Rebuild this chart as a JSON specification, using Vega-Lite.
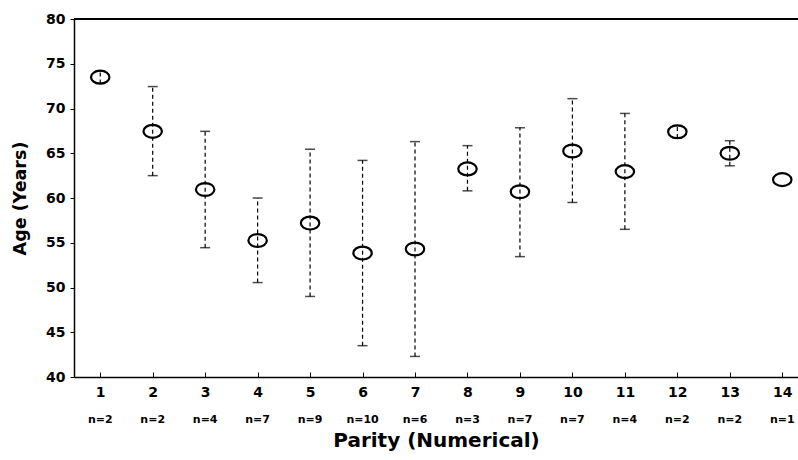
{
  "$schema": "https://vega.github.io/schema/vega-lite/v6.json",
  "width": 724,
  "height": 358,
  "autosize": {"type": "none"},
  "padding": {"left": 74, "top": 19, "right": 0, "bottom": 83},
  "background": "white",
  "config": {"view": {"stroke": null}, "font": "DejaVu Sans"},
  "data": {"values": [
    {"parity": 1, "mean": 73.5, "low": 72.8, "high": 74.2, "n": "n=2"},
    {"parity": 2, "mean": 67.45, "low": 62.5, "high": 72.45, "n": "n=2"},
    {"parity": 3, "mean": 60.95, "low": 54.45, "high": 67.45, "n": "n=4"},
    {"parity": 4, "mean": 55.25, "low": 50.55, "high": 60.0, "n": "n=7"},
    {"parity": 5, "mean": 57.2, "low": 49.0, "high": 65.45, "n": "n=9"},
    {"parity": 6, "mean": 53.85, "low": 43.5, "high": 64.2, "n": "n=10"},
    {"parity": 7, "mean": 54.3, "low": 42.3, "high": 66.3, "n": "n=6"},
    {"parity": 8, "mean": 63.25, "low": 60.8, "high": 65.85, "n": "n=3"},
    {"parity": 9, "mean": 60.7, "low": 53.45, "high": 67.85, "n": "n=7"},
    {"parity": 10, "mean": 65.25, "low": 59.5, "high": 71.1, "n": "n=7"},
    {"parity": 11, "mean": 62.95, "low": 56.5, "high": 69.45, "n": "n=4"},
    {"parity": 12, "mean": 67.4, "low": 66.7, "high": 68.1, "n": "n=2"},
    {"parity": 13, "mean": 65.0, "low": 63.6, "high": 66.4, "n": "n=2"},
    {"parity": 14, "mean": 62.05, "low": null, "high": null, "n": "n=1"}
  ]},
  "layer": [
    {
      "mark": {"type": "rule", "strokeDash": [4, 3], "strokeWidth": 1.2, "color": "black"},
      "encoding": {
        "x": {
          "field": "parity",
          "type": "quantitative",
          "scale": {"domain": [0.5, 14.3], "nice": false, "zero": false},
          "axis": {
            "values": [1,2,3,4,5,6,7,8,9,10,11,12,13,14],
            "grid": false,
            "domainColor": "black",
            "domainWidth": 1.5,
            "tickColor": "black",
            "tickSize": -5,
            "tickWidth": 1,
            "labelPadding": 13,
            "labelFont": "DejaVu Sans",
            "labelFontWeight": "bold",
            "labelFontSize": 14,
            "labelColor": "black",
            "labelFlush": false,
            "title": "Parity (Numerical)",
            "titleFont": "DejaVu Sans",
            "titleFontWeight": "bold",
            "titleFontSize": 20,
            "titleColor": "black",
            "titlePadding": 31
          }
        },
        "y": {
          "field": "low",
          "type": "quantitative",
          "scale": {"domain": [40, 80], "nice": false, "zero": false},
          "axis": {
            "values": [40,45,50,55,60,65,70,75,80],
            "grid": false,
            "domainColor": "black",
            "domainWidth": 1.5,
            "tickColor": "black",
            "tickSize": 4,
            "tickWidth": 1,
            "labelPadding": 5,
            "labelFont": "DejaVu Sans",
            "labelFontWeight": "bold",
            "labelFontSize": 14,
            "labelColor": "black",
            "labelFlush": false,
            "title": "Age (Years)",
            "titleFont": "DejaVu Sans",
            "titleFontWeight": "bold",
            "titleFontSize": 17.5,
            "titleColor": "black",
            "titlePadding": 16
          }
        },
        "y2": {"field": "high"}
      }
    },
    {
      "mark": {"type": "tick", "orient": "horizontal", "size": 10, "thickness": 1.5, "color": "black"},
      "encoding": {
        "x": {"field": "parity", "type": "quantitative"},
        "y": {"field": "low", "type": "quantitative"}
      }
    },
    {
      "mark": {"type": "tick", "orient": "horizontal", "size": 10, "thickness": 1.5, "color": "black"},
      "encoding": {
        "x": {"field": "parity", "type": "quantitative"},
        "y": {"field": "high", "type": "quantitative"}
      }
    },
    {
      "mark": {
        "type": "point",
        "shape": "M -1 0 A 1 0.7 0 1 1 1 0 A 1 0.7 0 1 1 -1 0 Z",
        "size": 340,
        "filled": false,
        "stroke": "black",
        "strokeWidth": 2.2,
        "opacity": 1
      },
      "encoding": {
        "x": {"field": "parity", "type": "quantitative"},
        "y": {"field": "mean", "type": "quantitative"}
      }
    },
    {
      "mark": {"type": "text", "font": "DejaVu Sans", "fontWeight": "bold", "fontSize": 11, "color": "black", "baseline": "middle"},
      "encoding": {
        "x": {"field": "parity", "type": "quantitative"},
        "y": {"datum": 35.2, "type": "quantitative"},
        "text": {"field": "n", "type": "nominal"}
      }
    },
    {
      "mark": {"type": "rule", "strokeWidth": 1.5, "color": "black"},
      "encoding": {"y": {"datum": 80, "type": "quantitative"}}
    }
  ]
}
